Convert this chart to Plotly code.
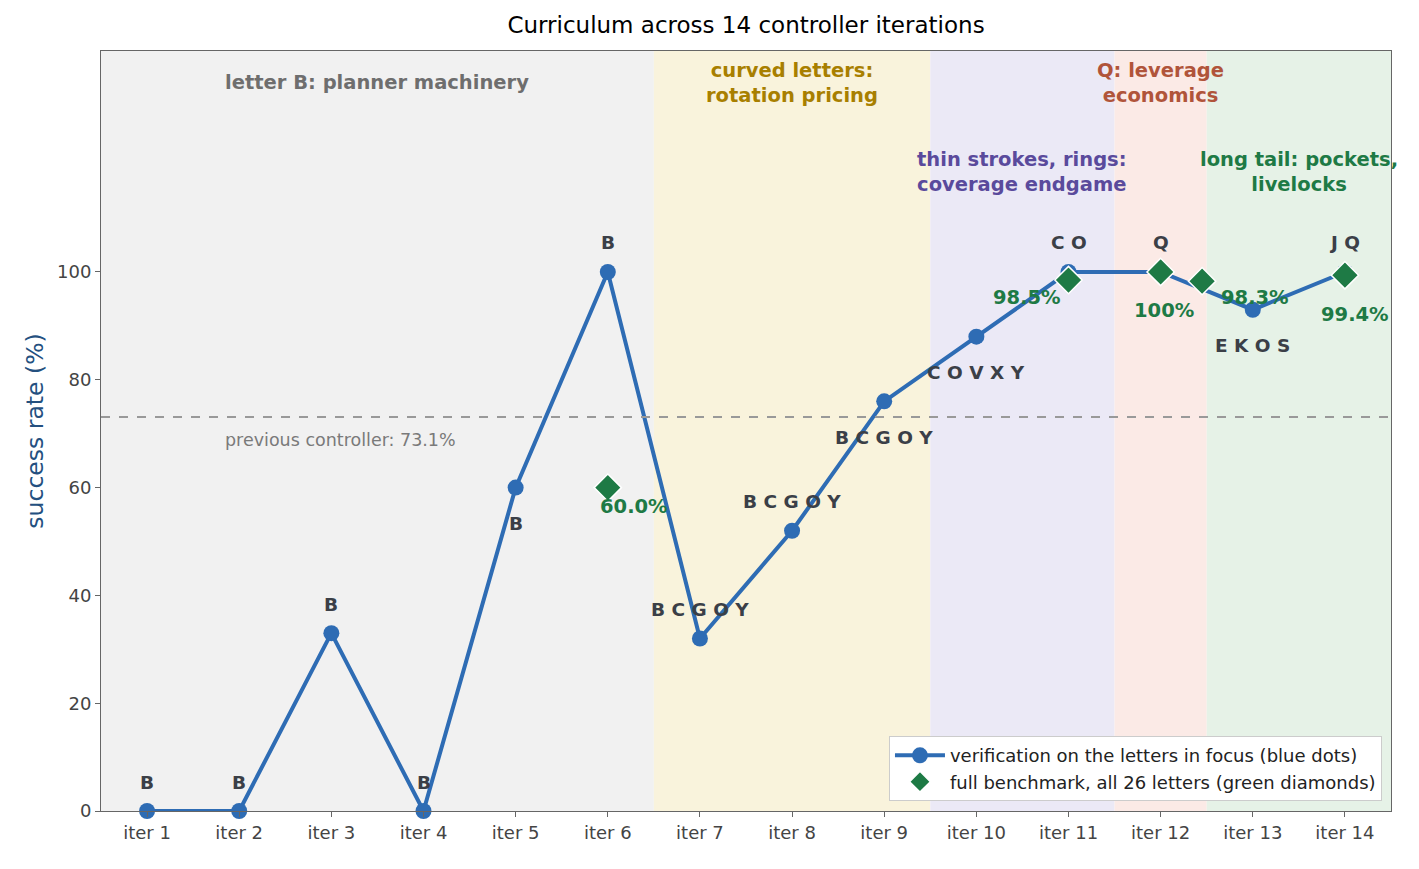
import plotly.graph_objects as go

# iterations and blue "letters in focus" verification
iterations = list(range(1, 15))
tick_labels = [f"iter {i}" for i in iterations]
focus_rate = [0, 0, 33, 0, 60, 100, 32, 52, 76, 88, 100, 100, 93, 100]
focus_letters = ["B", "B", "B", "B", "B", "B", "B C G O Y", "B C G O Y", "B C G O Y",
                 "C O V X Y", "C O", "Q", "E K O S", "J Q"]

# green full-benchmark runs (all 26 letters)
bench_x = [6, 11, 12, 12.45, 14]
bench_rate = [60.0, 98.5, 100.0, 98.3, 99.4]
bench_text = ["60.0%", "98.5%", "100%", "98.3%", "99.4%"]

previous_rate = 73.1

# curriculum phases
phase_start = [0.5, 6.5, 9.5, 11.5, 12.5]
phase_end = [6.5, 9.5, 11.5, 12.5, 14.5]
phase_names = ["letter B: planner machinery", "curved letters:<br>rotation pricing",
               "thin strokes, rings:<br>coverage endgame", "Q: leverage<br>economics",
               "long tail: pockets,<br>livelocks"]

phase_fill = ["#f1f1f1", "#f9f3dc", "#ebe9f6", "#fbeae6", "#e6f2e7"]
phase_color = ["#6e6e6e", "#a87f00", "#5a4a9c", "#b0543a", "#1e7a45"]
phase_label_y = [135.2, 135.0, 118.5, 135.0, 118.5]

BLUE = "#2e6cb4"
GREEN = "#1e7a45"
TEXT = "#3b3f47"
FONT = "DejaVu Sans"

fig = go.Figure()

for x0, x1, c in zip(phase_start, phase_end, phase_fill):
    fig.add_shape(type="rect", xref="x", yref="paper", x0=x0, x1=x1, y0=0, y1=1,
                  fillcolor=c, line_width=0, layer="below")

fig.add_shape(type="line", xref="paper", yref="y", x0=0, x1=1, y0=previous_rate, y1=previous_rate,
              line=dict(color="#999999", width=1.8, dash="dash"))

fig.add_trace(go.Scatter(
    x=iterations, y=focus_rate, mode="lines+markers",
    name="verification on the letters in focus (blue dots)",
    line=dict(color=BLUE, width=4),
    marker=dict(size=16, color=BLUE),
    cliponaxis=False,
))
fig.add_trace(go.Scatter(
    x=bench_x, y=bench_rate, mode="markers",
    name="full benchmark, all 26 letters (green diamonds)",
    marker=dict(symbol="diamond", size=21, color=GREEN, line=dict(color="white", width=1.5)),
    cliponaxis=False,
))

# letters above / below each blue dot
below = {5, 9, 10, 13}
for x, y, t in zip(iterations, focus_rate, focus_letters):
    fig.add_annotation(x=x, y=y, text=f"<b>{t}</b>", showarrow=False,
                       yshift=-36 if x in below else 29,
                       font=dict(family=FONT, size=18.5, color=TEXT))

# percentage labels next to green diamonds
bench_shift = [(26, -19), (-42, -17), (3, -39), (53, -16), (10, -39)]
for x, y, t, (dx, dy) in zip(bench_x, bench_rate, bench_text, bench_shift):
    fig.add_annotation(x=x, y=y, text=f"<b>{t}</b>", showarrow=False,
                       xshift=dx, yshift=dy,
                       font=dict(family=FONT, size=19.5, color=GREEN))

for x0, x1, name, c, ly in zip(phase_start, phase_end, phase_names, phase_color, phase_label_y):
    fig.add_annotation(x=(x0 + x1) / 2, y=ly, text=f"<b>{name}</b>", showarrow=False,
                       font=dict(family=FONT, size=19.5, color=c))

fig.add_annotation(x=1.82, y=68.8, text=f"previous controller: {previous_rate}%", showarrow=False,
                   xanchor="left", font=dict(family=FONT, size=17.5, color="#7a7a7a"))

fig.update_layout(
    width=1419, height=869,
    margin=dict(l=93, r=36, t=43, b=66),
    paper_bgcolor="white", plot_bgcolor="white",
    font=dict(family=FONT, size=17, color="#444444"),
    title=dict(text="Curriculum across 14 controller iterations", xref="paper", x=0.5, xanchor="center",
               y=0.98, yanchor="middle", font=dict(family=FONT, size=23, color="black")),
    showlegend=True,
    legend=dict(x=0.993, y=0.013, xanchor="right", yanchor="bottom",
                bgcolor="white", bordercolor="#cccccc", borderwidth=1, itemwidth=50,
                font=dict(family=FONT, size=18, color="#222222")),
)
fig.update_xaxes(range=[0.5, 14.5], tickvals=iterations, ticktext=tick_labels,
                 showgrid=False, zeroline=False, showline=True, mirror=True,
                 linecolor="#666666", linewidth=1, ticks="outside", ticklen=5,
                 tickcolor="#666666", tickfont=dict(size=18, color="#444444"))
fig.update_yaxes(range=[0, 141], tickvals=[0, 20, 40, 60, 80, 100],
                 showgrid=False, zeroline=False, showline=True, mirror=True,
                 linecolor="#666666", linewidth=1, ticks="outside", ticklen=5,
                 tickcolor="#666666", tickfont=dict(size=18, color="#444444"),
                 title=dict(text="success rate (%)", font=dict(size=23.5, color="#24507f"), standoff=6))

fig.write_html("out.html")
